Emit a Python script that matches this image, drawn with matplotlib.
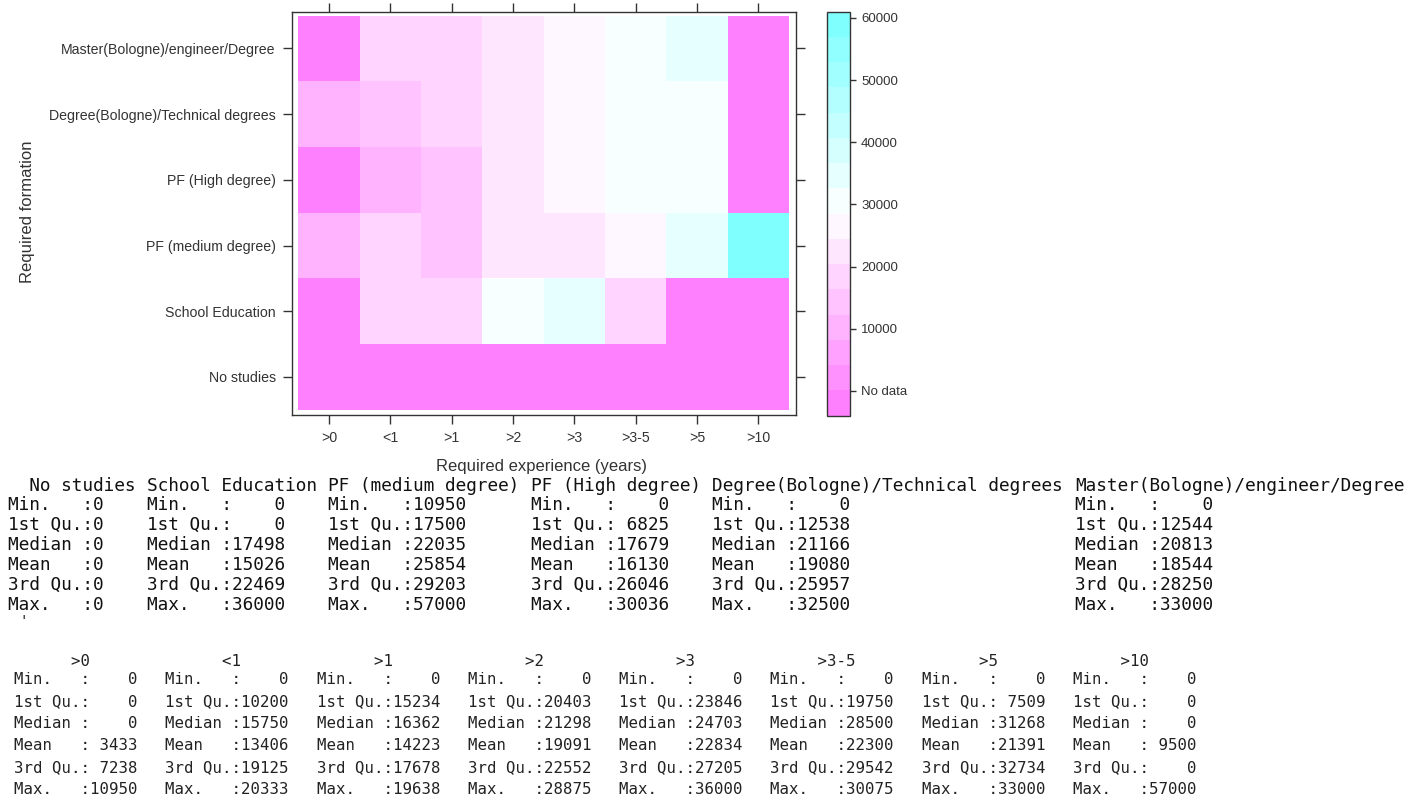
import numpy as np
import matplotlib
matplotlib.use("Agg")
import matplotlib.pyplot as plt
from matplotlib.colors import ListedColormap, BoundaryNorm, to_rgb

# categories
experience = [">0", "<1", ">1", ">2", ">3", ">3-5", ">5", ">10"]
formation = ["No studies", "School Education", "PF (medium degree)", "PF (High degree)",
             "Degree(Bologne)/Technical degrees", "Master(Bologne)/engineer/Degree"]

# mean salary per cell, one list per formation (0 = no data), in `experience` order
salary_no_studies = [0, 0, 0, 0, 0, 0, 0, 0]
salary_school = [0, 20333, 17996, 28875, 36000, 17000, 0, 0]
salary_pf_medium = [10950, 17999, 16000, 20475, 23600, 27999, 32810, 57000]
salary_pf_high = [0, 9100, 14979, 20379, 24819, 29727, 30036, 0]
salary_degree = [9650, 13501, 19638, 22696, 24585, 30075, 32500, 0]
salary_master = [0, 19500, 16725, 22126, 28000, 29001, 33000, 0]

# summary() output: Min, 1st Qu, Median, Mean, 3rd Qu, Max
stat_names = ["Min.", "1st Qu.", "Median", "Mean", "3rd Qu.", "Max."]
summ_no_studies = [0, 0, 0, 0, 0, 0]
summ_school = [0, 0, 17498, 15026, 22469, 36000]
summ_pf_medium = [10950, 17500, 22035, 25854, 29203, 57000]
summ_pf_high = [0, 6825, 17679, 16130, 26046, 30036]
summ_degree = [0, 12538, 21166, 19080, 25957, 32500]
summ_master = [0, 12544, 20813, 18544, 28250, 33000]

summ_gt0 = [0, 0, 0, 3433, 7238, 10950]
summ_lt1 = [0, 10200, 15750, 13406, 19125, 20333]
summ_gt1 = [0, 15234, 16362, 14223, 17678, 19638]
summ_gt2 = [0, 20403, 21298, 19091, 22552, 28875]
summ_gt3 = [0, 23846, 24703, 22834, 27205, 36000]
summ_gt3_5 = [0, 19750, 28500, 22300, 29542, 30075]
summ_gt5 = [0, 7509, 31268, 21391, 32734, 33000]
summ_gt10 = [0, 0, 0, 9500, 0, 57000]

colorbar_ticks = [0, 10000, 20000, 30000, 40000, 50000, 60000]
colorbar_labels = ["No data", "10000", "20000", "30000", "40000", "50000", "60000"]

W, H = 1427, 802
plt.rcParams['font.family'] = ['Liberation Sans', 'DejaVu Sans']
fig = plt.figure(figsize=(W / 100, H / 100), dpi=100)


def fx(x):
    return x / W


def fy(y):
    return 1 - y / H


# --- level plot ---
ax = fig.add_axes([fx(291.7), fy(415), 504 / W, 403.3 / H])
cax = fig.add_axes([fx(827), fy(415.7), 23 / W, 404 / H])

levels = np.linspace(-3990, 60990, 17)
magenta = np.array(to_rgb("#ff80ff"))
cyan = np.array(to_rgb("#80ffff"))
white = np.ones(3)
band_cols = []
for t in np.linspace(0, 1, 16):
    if t <= 0.5:
        band_cols.append(magenta + (white - magenta) * t / 0.5)
    else:
        band_cols.append(white + (cyan - white) * (t - 0.5) / 0.5)
cmap = ListedColormap(band_cols)
norm = BoundaryNorm(levels, cmap.N)

z = np.array([salary_no_studies, salary_school, salary_pf_medium,
              salary_pf_high, salary_degree, salary_master])
xe = np.arange(len(experience) + 1) + 0.5
ye = np.arange(len(formation) + 1) + 0.5
mesh = ax.pcolormesh(xe, ye, z, cmap=cmap, norm=norm, edgecolors='none')
ax.set_xlim(0.5 - 0.11, len(experience) + 0.5 + 0.11)
ax.set_ylim(0.5 - 0.08, len(formation) + 0.5 + 0.06)

ax.set_xticks(range(1, len(experience) + 1))
ax.set_xticklabels(experience)
ax.set_yticks(range(1, len(formation) + 1))
ax.set_yticklabels(formation)
ax.tick_params(top=True, right=True, direction='out', length=6.5, width=1,
               color='#333333', labelcolor='#333333', labelsize=10.2, pad=5)
for s in ax.spines.values():
    s.set_color('#333333')
    s.set_linewidth(1)

fig.text(fx(542), fy(467), "Required experience (years)", ha='center', va='center',
         fontsize=12, color='#333333')
fig.text(fx(27.5), fy(212), "Required formation", ha='center', va='center',
         rotation=90, fontsize=12, color='#333333')

cb = fig.colorbar(mesh, cax=cax, ticks=colorbar_ticks)
cb.ax.set_yticklabels(colorbar_labels)
cb.ax.minorticks_off()
cb.outline.set_edgecolor('#333333')
cb.outline.set_linewidth(1)
cax.tick_params(direction='out', length=4, width=1, color='#333333',
                labelcolor='#333333', labelsize=9.5, pad=4)


# --- summary tables as console text ---
def cell(name, val, w):
    return f"{name:<7}:{val:>{w}}  "


def header(name):
    pad = max(0, int(np.floor(7 - len(name) / 2)))
    return " " * pad + name


def table_blocks(names, columns):
    # each block: (start column in chars, list of text rows incl. header)
    blocks = []
    start = 0
    for nm, vals in zip(names, columns):
        w = max(len(str(v)) for v in vals)
        rows = [cell(s, v, w) for s, v in zip(stat_names, vals)]
        hd = header(nm)
        width = max(len(hd), max(len(r) for r in rows))
        blocks.append((start, [hd] + [r.rstrip() for r in rows]))
        start += width + 1
    return blocks


def draw_table(blocks, x0, charw, y_head, y0, dy, size, color):
    for start, rows in blocks:
        for i, txt in enumerate(rows):
            y = y_head if i == 0 else y0 + dy * (i - 1)
            fig.text(fx(x0 + start * charw), fy(y), txt, family='DejaVu Sans Mono',
                     fontsize=size, ha='left', va='center', color=color)


t1 = table_blocks(formation, [summ_no_studies, summ_school, summ_pf_medium,
                              summ_pf_high, summ_degree, summ_master])
draw_table(t1, 8, 10.67, 486, 505, 20, 12.8, '#111111')

fig.text(fx(19), fy(621), "'", family='DejaVu Sans Mono', fontsize=10, ha='left',
         va='center', color='#111111')

t2 = table_blocks(experience, [summ_gt0, summ_lt1, summ_gt1, summ_gt2, summ_gt3,
                               summ_gt3_5, summ_gt5, summ_gt10])
draw_table(t2, 14, 9.455, 661, 680, 22, 11.3, '#222222')

fig.savefig("out.png", dpi=100, facecolor='white')
